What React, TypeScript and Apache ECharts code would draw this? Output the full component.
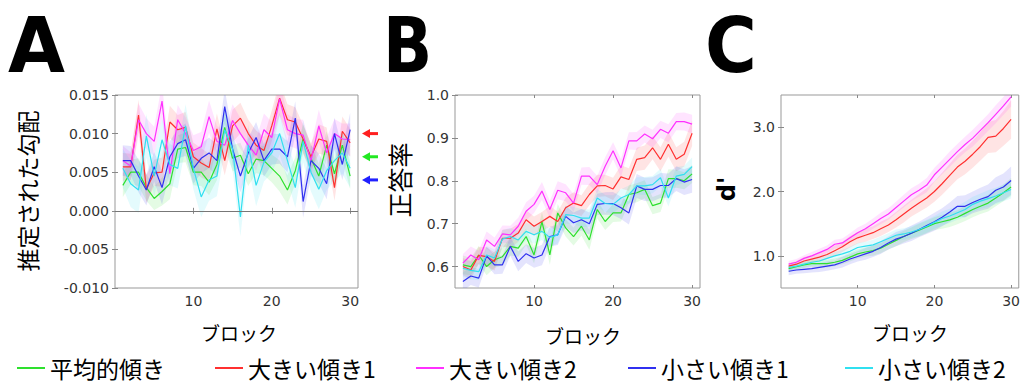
import React, { useEffect, useRef } from "react";
import * as echarts from "echarts";

const blocks = [1, 2, 3, 4, 5, 6, 7, 8, 9, 10, 11, 12, 13, 14, 15, 16, 17, 18, 19, 20, 21, 22, 23, 24, 25, 26, 27, 28, 29, 30];
const seriesNames = ["平均的傾き", "大きい傾き1", "大きい傾き2", "小さい傾き1", "小さい傾き2"];

// Panel A: estimated gradient
const gradGreen = [0.0033, 0.005, 0.005, 0.003, 0.0016, 0.0025, 0.0035, 0.008, 0.0082, 0.005, 0.005, 0.0037, 0.006, 0.0108, 0.0068, 0.0072, 0.0048, 0.0067, 0.0065, 0.0055, 0.0045, 0.0027, 0.0052, 0.0093, 0.0068, 0.0045, 0.0085, 0.0048, 0.0085, 0.0045];
const gradRed = [0.0057, 0.0057, 0.0124, 0.0028, 0.0049, 0.005, 0.0115, 0.0105, 0.0108, 0.007, 0.0062, 0.0056, 0.0106, 0.0065, 0.011, 0.012, 0.01, 0.0085, 0.0078, 0.011, 0.0146, 0.0118, 0.0115, 0.0093, 0.007, 0.0093, 0.009, 0.003, 0.0103, 0.0088];
const gradMagenta = [0.0065, 0.0058, 0.0118, 0.01, 0.009, 0.0142, 0.0048, 0.0118, 0.01, 0.0078, 0.0083, 0.0122, 0.009, 0.0085, 0.0117, 0.01, 0.0085, 0.0072, 0.0105, 0.0095, 0.0145, 0.0105, 0.01, 0.0098, 0.0065, 0.011, 0.0075, 0.01, 0.0093, 0.0092];
const gradBlue = [0.0065, 0.0065, 0.0045, 0.0027, 0.0057, 0.003, 0.007, 0.0087, 0.0092, 0.0055, 0.0068, 0.0075, 0.0065, 0.0135, 0.008, 0.0045, 0.0075, 0.0095, 0.0065, 0.008, 0.008, 0.007, 0.012, 0.0012, 0.0065, 0.0055, 0.0035, 0.01, 0.006, 0.0105];
const gradCyan = [0.0055, 0.0035, 0.0027, 0.0097, 0.0045, 0.0092, 0.006, 0.0055, 0.011, 0.0055, 0.0018, 0.004, 0.0045, 0.0105, 0.008, -0.0008, 0.0085, 0.0033, 0.0063, 0.0075, 0.01, 0.0065, 0.003, 0.009, 0.005, 0.0028, 0.0052, 0.0065, 0.0075, 0.0055];
const gradGreenErr = [0.0015, 0.0016, 0.0018, 0.0017, 0.0015, 0.0018, 0.002, 0.0018, 0.0019, 0.0017, 0.0018, 0.0017, 0.002, 0.0019, 0.0017, 0.0016, 0.0016, 0.0018, 0.0019, 0.0018, 0.002, 0.0019, 0.0017, 0.0019, 0.0018, 0.0016, 0.0018, 0.0019, 0.0018, 0.0017];
const gradRedErr = [0.0018, 0.0017, 0.002, 0.0018, 0.0017, 0.0019, 0.0021, 0.0019, 0.002, 0.0018, 0.0019, 0.0018, 0.002, 0.0019, 0.0021, 0.002, 0.0018, 0.0019, 0.0018, 0.002, 0.0022, 0.002, 0.0019, 0.0018, 0.0017, 0.0019, 0.0018, 0.0017, 0.0019, 0.0018];
const gradMagentaErr = [0.0019, 0.0018, 0.0021, 0.002, 0.0019, 0.0022, 0.002, 0.0019, 0.0021, 0.002, 0.0019, 0.0021, 0.002, 0.0019, 0.0021, 0.002, 0.0019, 0.002, 0.0021, 0.002, 0.0022, 0.002, 0.0019, 0.002, 0.0019, 0.0021, 0.002, 0.0019, 0.002, 0.0021];
const gradBlueErr = [0.002, 0.0019, 0.0021, 0.002, 0.0019, 0.0022, 0.002, 0.0019, 0.0021, 0.002, 0.0019, 0.002, 0.0021, 0.0022, 0.002, 0.0021, 0.0019, 0.002, 0.0021, 0.002, 0.0019, 0.002, 0.0022, 0.0021, 0.002, 0.0019, 0.002, 0.0021, 0.002, 0.0022];
const gradCyanErr = [0.0025, 0.003, 0.003, 0.0028, 0.0026, 0.0028, 0.0027, 0.0026, 0.0028, 0.0027, 0.0026, 0.0027, 0.0026, 0.0028, 0.0027, 0.0025, 0.0026, 0.0027, 0.0025, 0.0026, 0.0027, 0.0025, 0.0026, 0.0027, 0.0025, 0.0026, 0.0025, 0.0026, 0.0027, 0.0025];

// Panel B: accuracy
const accGreen = [0.604, 0.6, 0.627, 0.6, 0.616, 0.623, 0.647, 0.643, 0.67, 0.627, 0.705, 0.627, 0.725, 0.69, 0.67, 0.694, 0.662, 0.733, 0.705, 0.725, 0.725, 0.768, 0.772, 0.78, 0.742, 0.748, 0.805, 0.805, 0.8, 0.816];
const accRed = [0.6, 0.592, 0.626, 0.623, 0.612, 0.666, 0.666, 0.678, 0.709, 0.694, 0.705, 0.717, 0.705, 0.737, 0.748, 0.742, 0.768, 0.788, 0.789, 0.781, 0.809, 0.803, 0.85, 0.854, 0.877, 0.85, 0.885, 0.85, 0.862, 0.911];
const accMagenta = [0.608, 0.627, 0.616, 0.662, 0.647, 0.676, 0.674, 0.694, 0.729, 0.745, 0.776, 0.733, 0.778, 0.772, 0.748, 0.811, 0.811, 0.791, 0.834, 0.87, 0.83, 0.893, 0.893, 0.909, 0.898, 0.92, 0.911, 0.938, 0.938, 0.932];
const accBlue = [0.565, 0.578, 0.573, 0.625, 0.604, 0.604, 0.647, 0.612, 0.63, 0.62, 0.627, 0.67, 0.674, 0.717, 0.702, 0.709, 0.7, 0.745, 0.747, 0.747, 0.737, 0.725, 0.788, 0.78, 0.78, 0.789, 0.789, 0.805, 0.797, 0.803];
const accCyan = [0.596, 0.591, 0.588, 0.627, 0.62, 0.664, 0.67, 0.662, 0.682, 0.674, 0.682, 0.668, 0.674, 0.721, 0.719, 0.713, 0.713, 0.76, 0.747, 0.745, 0.76, 0.768, 0.788, 0.788, 0.791, 0.807, 0.76, 0.811, 0.815, 0.833];
const accGreenErr = [0.022, 0.02, 0.021, 0.02, 0.019, 0.02, 0.021, 0.02, 0.019, 0.02, 0.022, 0.023, 0.021, 0.02, 0.021, 0.022, 0.023, 0.021, 0.02, 0.021, 0.02, 0.021, 0.022, 0.021, 0.02, 0.021, 0.022, 0.021, 0.02, 0.021];
const accRedErr = [0.02, 0.021, 0.02, 0.022, 0.021, 0.02, 0.022, 0.021, 0.022, 0.023, 0.022, 0.024, 0.023, 0.024, 0.025, 0.024, 0.025, 0.026, 0.025, 0.026, 0.027, 0.026, 0.027, 0.028, 0.027, 0.028, 0.029, 0.028, 0.029, 0.03];
const accMagentaErr = [0.021, 0.02, 0.021, 0.02, 0.021, 0.02, 0.021, 0.02, 0.021, 0.02, 0.021, 0.02, 0.021, 0.02, 0.021, 0.02, 0.021, 0.02, 0.021, 0.02, 0.021, 0.02, 0.021, 0.02, 0.021, 0.02, 0.021, 0.02, 0.021, 0.022];
const accBlueErr = [0.022, 0.021, 0.022, 0.021, 0.022, 0.021, 0.022, 0.023, 0.022, 0.023, 0.024, 0.023, 0.024, 0.025, 0.024, 0.025, 0.026, 0.025, 0.026, 0.027, 0.026, 0.027, 0.028, 0.027, 0.028, 0.029, 0.028, 0.029, 0.03, 0.031];
const accCyanErr = [0.02, 0.021, 0.02, 0.021, 0.02, 0.021, 0.02, 0.021, 0.02, 0.021, 0.02, 0.021, 0.02, 0.021, 0.02, 0.021, 0.02, 0.021, 0.02, 0.021, 0.02, 0.021, 0.02, 0.021, 0.02, 0.021, 0.02, 0.021, 0.02, 0.021];

// Panel C: d'
const dpGreen = [0.8, 0.83, 0.86, 0.88, 0.88, 0.88, 0.9, 0.93, 0.98, 1.03, 1.06, 1.08, 1.12, 1.18, 1.24, 1.3, 1.35, 1.4, 1.45, 1.5, 1.53, 1.56, 1.6, 1.66, 1.72, 1.77, 1.82, 1.9, 1.98, 2.07];
const dpRed = [0.84, 0.87, 0.92, 0.95, 0.98, 1.02, 1.08, 1.14, 1.22, 1.28, 1.32, 1.36, 1.42, 1.48, 1.56, 1.65, 1.74, 1.82, 1.9, 2.0, 2.12, 2.25, 2.38, 2.47, 2.58, 2.7, 2.84, 2.86, 2.98, 3.12];
const dpMagenta = [0.87, 0.9, 0.96, 1.0, 1.05, 1.1, 1.18, 1.2, 1.28, 1.36, 1.42, 1.5, 1.58, 1.65, 1.75, 1.85, 1.95, 2.02, 2.1, 2.26, 2.38, 2.5, 2.62, 2.73, 2.83, 2.95, 3.07, 3.2, 3.33, 3.47];
const dpBlue = [0.76, 0.78, 0.79, 0.8, 0.82, 0.84, 0.86, 0.9, 0.95, 0.99, 1.03, 1.07, 1.13, 1.2, 1.26, 1.3, 1.35, 1.41, 1.47, 1.53, 1.6, 1.68, 1.77, 1.77, 1.83, 1.88, 1.92, 2.02, 2.07, 2.17];
const dpCyan = [0.82, 0.84, 0.87, 0.9, 0.92, 0.96, 1.0, 1.03, 1.07, 1.13, 1.15, 1.17, 1.22, 1.27, 1.32, 1.34, 1.37, 1.41, 1.46, 1.52, 1.58, 1.62, 1.67, 1.72, 1.8, 1.85, 1.89, 1.93, 1.98, 2.03];
const dpGreenErr = [0.05, 0.05, 0.05, 0.05, 0.06, 0.06, 0.06, 0.06, 0.07, 0.07, 0.07, 0.08, 0.08, 0.08, 0.09, 0.09, 0.09, 0.1, 0.1, 0.1, 0.11, 0.11, 0.11, 0.12, 0.12, 0.12, 0.13, 0.13, 0.13, 0.14];
const dpRedErr = [0.05, 0.05, 0.06, 0.06, 0.07, 0.07, 0.08, 0.08, 0.09, 0.09, 0.1, 0.1, 0.11, 0.11, 0.12, 0.13, 0.13, 0.14, 0.15, 0.16, 0.17, 0.18, 0.19, 0.2, 0.21, 0.22, 0.24, 0.25, 0.27, 0.3];
const dpMagentaErr = [0.05, 0.05, 0.05, 0.06, 0.06, 0.06, 0.07, 0.07, 0.07, 0.08, 0.08, 0.08, 0.09, 0.09, 0.09, 0.1, 0.1, 0.1, 0.11, 0.11, 0.11, 0.12, 0.12, 0.12, 0.13, 0.13, 0.13, 0.14, 0.14, 0.15];
const dpBlueErr = [0.06, 0.06, 0.06, 0.06, 0.07, 0.07, 0.07, 0.08, 0.08, 0.08, 0.09, 0.09, 0.1, 0.1, 0.11, 0.11, 0.12, 0.12, 0.13, 0.14, 0.14, 0.15, 0.16, 0.17, 0.17, 0.18, 0.19, 0.2, 0.21, 0.22];
const dpCyanErr = [0.05, 0.05, 0.05, 0.05, 0.06, 0.06, 0.06, 0.06, 0.07, 0.07, 0.07, 0.08, 0.08, 0.08, 0.09, 0.09, 0.09, 0.1, 0.1, 0.1, 0.11, 0.11, 0.11, 0.12, 0.12, 0.12, 0.13, 0.13, 0.13, 0.14];

const xTicks = [10, 20, 30];
const yTicksA = [-0.01, -0.005, 0, 0.005, 0.01, 0.015];
const yTicksB = [0.6, 0.7, 0.8, 0.9, 1.0];
const yTicksC = [1, 2, 3];
const arrowValues = [0.01, 0.007, 0.004];
const panelLetters = ["A", "B", "C"];
const yNames = ["推定された勾配", "正答率", "d'"];
const xName = "ブロック";

const colors = ["#2ee02e", "#ff3030", "#ff30ff", "#3030f0", "#30e0f0"];
const arrowColors = ["#ff2020", "#22e822", "#2020ff"];

const panels = [
  { means: [gradGreen, gradRed, gradMagenta, gradBlue, gradCyan], errs: [gradGreenErr, gradRedErr, gradMagentaErr, gradBlueErr, gradCyanErr], min: -0.01, max: 0.015, ticks: yTicksA, dec: 3 },
  { means: [accGreen, accRed, accMagenta, accBlue, accCyan], errs: [accGreenErr, accRedErr, accMagentaErr, accBlueErr, accCyanErr], min: 0.55, max: 1.0, ticks: yTicksB, dec: 1 },
  { means: [dpGreen, dpRed, dpMagenta, dpBlue, dpCyan], errs: [dpGreenErr, dpRedErr, dpMagentaErr, dpBlueErr, dpCyanErr], min: 0.5, max: 3.5, ticks: yTicksC, dec: 1 },
];

const gridBoxes = [
  { left: 115, top: 95, width: 243, height: 193 },
  { left: 455, top: 95, width: 245, height: 193 },
  { left: 781, top: 95, width: 241, height: 193 },
];

const tickFont = { color: "#333", fontSize: 14, fontFamily: "DejaVu Sans" };

function buildOption() {
  const grid: any[] = [];
  const xAxis: any[] = [];
  const yAxis: any[] = [];
  const series: any[] = [];
  panels.forEach((p, g) => {
    grid.push({ ...gridBoxes[g], show: true, borderColor: "#999", borderWidth: 1, backgroundColor: "rgba(0,0,0,0)" });
    ["bottom", "top"].forEach((pos, k) => {
      xAxis.push({
        gridIndex: g, type: "value", min: 0, max: 31, position: pos,
        axisLine: { show: false },
        axisTick: { show: true, inside: true, length: 3, lineStyle: { color: "#888" }, customValues: xTicks },
        axisLabel: { show: k === 0, customValues: xTicks, margin: 6, ...tickFont },
        splitLine: { show: false },
      });
    });
    ["left", "right"].forEach((pos, k) => {
      yAxis.push({
        gridIndex: g, type: "value", min: p.min, max: p.max, position: pos,
        axisLine: { show: false },
        axisTick: { show: true, inside: true, length: 3, lineStyle: { color: "#888" }, customValues: p.ticks },
        axisLabel: { show: k === 0, customValues: p.ticks, margin: 6, formatter: (v: number) => v.toFixed(p.dec), ...tickFont },
        splitLine: { show: false },
      });
    });
    p.means.forEach((m, s) => {
      const err = p.errs[s];
      series.push({
        type: "custom", name: seriesNames[s] + "-band" + g, xAxisIndex: 2 * g, yAxisIndex: 2 * g,
        clip: true, silent: true, z: 1,
        data: [[blocks[0], m[0]]],
        renderItem: (params: any, api: any) => {
          const pts: number[][] = [];
          for (let i = 0; i < blocks.length; i++) pts.push(api.coord([blocks[i], m[i] + err[i]]));
          for (let i = blocks.length - 1; i >= 0; i--) pts.push(api.coord([blocks[i], m[i] - err[i]]));
          return { type: "polygon", shape: { points: pts }, style: { fill: colors[s], opacity: 0.13 }, silent: true };
        },
      });
    });
    p.means.forEach((m, s) => {
      const line: any = {
        type: "line", name: seriesNames[s], xAxisIndex: 2 * g, yAxisIndex: 2 * g,
        data: blocks.map((b, i) => [b, m[i]]),
        showSymbol: false, symbol: "none", silent: true, z: 3,
        lineStyle: { width: 1.2, color: colors[s] }, itemStyle: { color: colors[s] },
      };
      if (g === 0 && s === 0) {
        line.markLine = { silent: true, symbol: "none", label: { show: false }, lineStyle: { color: "#777", type: "solid", width: 1 }, data: [{ yAxis: 0 }] };
      }
      series.push(line);
    });
  });

  const legendLefts = [17, 215, 416, 628, 845];
  const legend = seriesNames.map((n, i) => ({
    left: legendLefts[i], top: 356, padding: 0, data: [n], icon: "rect", itemWidth: 28, itemHeight: 2,
    selectedMode: false,
    textStyle: { fontSize: 23, lineHeight: 24, fontFamily: "Noto Sans CJK JP", color: "#000" },
  }));

  return { animation: false, backgroundColor: "#fff", grid, xAxis, yAxis, series, legend };
}

function txt(text: string, x: number, y: number, font: string, extra: any = {}) {
  const style: any = { text, font, fill: "#000", align: "center", verticalAlign: "middle", textAlign: "center", textVerticalAlign: "middle" };
  return { type: "text", x, y, silent: true, ...extra, style };
}

export default function App() {
  const ref = useRef<HTMLDivElement>(null);
  useEffect(() => {
    if (!ref.current) return;
    const chart = echarts.init(ref.current, undefined, { renderer: "svg" });
    chart.setOption(buildOption());

    const graphic: any[] = [];
    const letterPos = [[36.5, 46, 0.97], [407.5, 46, 0.85], [731, 46, 0.93]];
    panelLetters.forEach((l, i) => {
      graphic.push(txt(l, letterPos[i][0], letterPos[i][1], 'bold 76px "DejaVu Sans"', { scaleX: letterPos[i][2] }));
    });
    graphic.push(txt(yNames[0], 27, 191, '23px "Noto Sans CJK JP"', { rotation: Math.PI / 2 }));
    graphic.push(txt(yNames[1], 399, 180, '25px "Noto Sans CJK JP"', { rotation: Math.PI / 2 }));
    graphic.push(txt(yNames[2], 727, 189, 'bold 24px "DejaVu Sans"', { rotation: Math.PI / 2 }));
    const xNamePos = [[239, 332], [583, 335], [910, 332]];
    xNamePos.forEach((pt) => graphic.push(txt(xName, pt[0], pt[1], '19px "Noto Sans CJK JP"')));

    arrowValues.forEach((v, i) => {
      const pt = chart.convertToPixel({ xAxisIndex: 0, yAxisIndex: 0 } as any, [31, v]) as number[];
      const x0 = pt[0] + 4;
      const y = pt[1];
      graphic.push({ type: "polygon", silent: true, shape: { points: [[x0, y], [x0 + 8, y - 4.5], [x0 + 8, y + 4.5]] }, style: { fill: arrowColors[i] } });
      graphic.push({ type: "rect", silent: true, shape: { x: x0 + 7, y: y - 1.5, width: 9, height: 3 }, style: { fill: arrowColors[i] } });
    });
    chart.setOption({ graphic });

    return () => chart.dispose();
  }, []);
  return <div ref={ref} style={{ position: "fixed", left: 0, top: 0, width: 1023, height: 385 }} />;
}
